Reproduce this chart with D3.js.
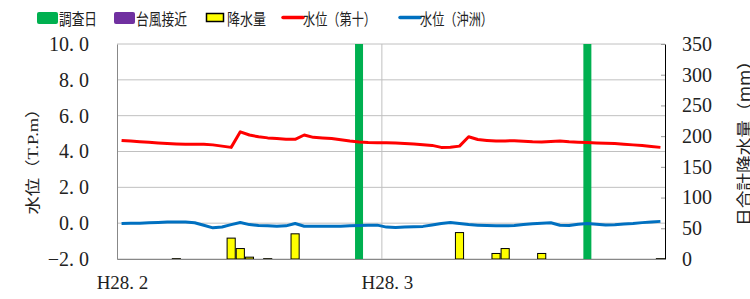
<!DOCTYPE html>
<html>
<head>
<meta charset="utf-8">
<script src="https://cdn.jsdelivr.net/npm/d3@7"></script>
<style>
  body { margin: 0; background: #fff; }
  svg { display: block; }
</style>
</head>
<body>
<script>
// daily values from 2016-02-01 (H28.2.1) to 2016-03-31
var startDate = new Date(2016, 1, 1);
var endDate = new Date(2016, 3, 1);

// 水位（第十） T.P.m
var level10 = [4.62, 4.58, 4.55, 4.51, 4.48, 4.45, 4.42, 4.40, 4.40, 4.41,
  4.37, 4.30, 4.23, 5.10, 4.92, 4.82, 4.76, 4.72, 4.69, 4.68,
  4.92, 4.79, 4.75, 4.72, 4.65, 4.58, 4.53, 4.50, 4.49,
  4.49, 4.47, 4.45, 4.42, 4.38, 4.34, 4.23, 4.24, 4.30, 4.82,
  4.67, 4.62, 4.58, 4.59, 4.60, 4.57, 4.54, 4.53, 4.56, 4.58,
  4.54, 4.52, 4.50, 4.48, 4.46, 4.44, 4.41, 4.37, 4.33, 4.28, 4.23];

// 水位（沖洲） T.P.m
var levelOkinosu = [-0.02, -0.01, 0.00, 0.02, 0.04, 0.06, 0.07, 0.07, 0.02, -0.12,
  -0.26, -0.21, -0.08, 0.04, -0.08, -0.13, -0.15, -0.17, -0.15, -0.02,
  -0.17, -0.17, -0.17, -0.17, -0.17, -0.15, -0.13, -0.12, -0.11,
  -0.22, -0.24, -0.22, -0.20, -0.18, -0.10, -0.02, 0.04, -0.02, -0.08,
  -0.11, -0.13, -0.14, -0.15, -0.13, -0.08, -0.03, 0.00, 0.02, -0.12,
  -0.13, -0.06, -0.02, -0.06, -0.10, -0.09, -0.05, -0.02, 0.03, 0.07, 0.10];

// 日合計降水量 mm
var rainfall = [0, 0, 0, 0, 0, 0, 0.5, 0, 0, 0,
  0, 0, 34, 17, 3, 0, 0.5, 0, 0, 41,
  0, 0, 0, 0, 0, 0, 0, 0, 0,
  0, 0, 0, 0, 0, 0, 0, 0, 43, 0,
  0, 0, 9, 17, 0, 0, 0, 9, 0, 0,
  0, 0, 0, 0, 0, 0, 0, 0, 0, 0, 0.5];

var surveyDays = ["2016-02-27", "2016-03-23"];
var typhoonDays = [];

var levelTicks = [-2, 0, 2, 4, 6, 8, 10];
var rainTicks = [0, 50, 100, 150, 200, 250, 300, 350];
var monthTicks = [new Date(2016, 1, 1), new Date(2016, 2, 1)];
var monthLabels = ["H28. 2", "H28. 3"];

var legendItems = [
  {label: "調査日", type: "rect", color: "#00b050", w: 38},
  {label: "台風接近", type: "rect", color: "#7030a0", w: 51},
  {label: "降水量", type: "bar", color: "#ffff00", w: 39},
  {label: "水位（第十）", type: "line", color: "#ff0000", w: 73},
  {label: "水位（沖洲）", type: "line", color: "#0070c0", w: 73}
];

(function drawChart() {
  var cjk = "'Noto Sans CJK JP', 'Noto Sans', sans-serif";
  var serif = "'Liberation Serif', 'Noto Sans CJK JP', serif";

  var svg = d3.select("body").append("svg")
    .attr("width", 750)
    .attr("height", 299);

  var pL = 117, pR = 665, pT = 44, pB = 259;

  var x = d3.scaleTime().domain([startDate, endDate]).range([pL, pR]);
  var yL = d3.scaleLinear().domain([-2, 10]).range([pB, pT]);
  var yR = d3.scaleLinear().domain([0, 350]).range([pB, pT]);

  var day = function(i) { return d3.timeDay.offset(startDate, i); };
  var mid = function(i) { return x(d3.timeHour.offset(day(i), 12)); };
  var dayW = x(day(1)) - x(day(0));
  var parseDay = function(s) { return d3.timeHour.offset(d3.timeParse("%Y-%m-%d")(s), 12); };

  svg.append("clipPath").attr("id", "plot")
    .append("rect").attr("x", pL).attr("y", pT)
    .attr("width", pR - pL).attr("height", pB - pT);

  // grid
  svg.append("g").selectAll("line").data(levelTicks).enter().append("line")
    .attr("x1", pL).attr("x2", pR)
    .attr("y1", function(d) { return yL(d); })
    .attr("y2", function(d) { return yL(d); })
    .attr("stroke", "#c0c0c0").attr("stroke-width", 1);
  svg.append("g").selectAll("line").data(monthTicks.slice(1)).enter().append("line")
    .attr("x1", function(d) { return x(d); }).attr("x2", function(d) { return x(d); })
    .attr("y1", pT).attr("y2", pB)
    .attr("stroke", "#c0c0c0").attr("stroke-width", 1);

  var plot = svg.append("g").attr("clip-path", "url(#plot)");

  // rain bars
  var rainDays = rainfall.map(function(v, i) { return {i: i, v: v}; })
    .filter(function(d) { return d.v > 0; });
  plot.selectAll(".rain").data(rainDays).enter().append("rect")
    .attr("class", "rain")
    .attr("x", function(d) { return x(day(d.i)) + 0.5; })
    .attr("width", dayW - 1)
    .attr("y", function(d) { return yR(d.v); })
    .attr("height", function(d) { return pB - yR(d.v); })
    .attr("fill", "#ffff00").attr("stroke", "#000").attr("stroke-width", 1);

  // survey days / typhoon
  plot.selectAll(".survey").data(surveyDays).enter().append("rect")
    .attr("class", "survey")
    .attr("x", function(d) { return x(parseDay(d)) - 4; })
    .attr("width", 8)
    .attr("y", pT).attr("height", pB - pT)
    .attr("fill", "#00b050");
  plot.selectAll(".typhoon").data(typhoonDays).enter().append("rect")
    .attr("class", "typhoon")
    .attr("x", function(d) { return x(parseDay(d)) - 4; })
    .attr("width", 8)
    .attr("y", pT).attr("height", pB - pT)
    .attr("fill", "#7030a0");

  // water level lines
  var lineFor = function(values) {
    return d3.line()
      .x(function(d, i) { return mid(i); })
      .y(function(d) { return yL(d); })(values);
  };
  plot.append("path").attr("d", lineFor(level10))
    .attr("fill", "none").attr("stroke", "#ff0000").attr("stroke-width", 3)
    .attr("stroke-linejoin", "round");
  plot.append("path").attr("d", lineFor(levelOkinosu))
    .attr("fill", "none").attr("stroke", "#0070c0").attr("stroke-width", 3)
    .attr("stroke-linejoin", "round");

  // axes
  var axL = svg.append("g").attr("transform", "translate(" + pL + ",0)")
    .call(d3.axisLeft(yL).tickValues(levelTicks).tickSize(0).tickPadding(28)
      .tickFormat(function(d) { return d3.format(".1f")(d).replace(".", ". "); }));
  axL.select(".domain").attr("stroke", "#888");
  axL.selectAll("text").attr("font-family", serif).attr("font-size", 20).attr("fill", "#222");

  var axR = svg.append("g").attr("transform", "translate(" + pR + ",0)")
    .call(d3.axisRight(yR).tickValues(rainTicks).tickSizeInner(-4).tickSizeOuter(0).tickPadding(17));
  axR.select(".domain").attr("stroke", "#000");
  axR.selectAll(".tick line").attr("stroke", "#999");
  axR.selectAll("text").attr("font-family", serif).attr("font-size", 20).attr("fill", "#222");

  var axB = svg.append("g").attr("transform", "translate(0," + pB + ")")
    .call(d3.axisBottom(x).tickValues(monthTicks).tickSize(0).tickPadding(0)
      .tickFormat(function(d, i) { return monthLabels[i]; }));
  axB.select(".domain").attr("stroke", "#888");
  axB.selectAll("text").attr("font-family", serif).attr("font-size", 19).attr("fill", "#222")
    .attr("dy", null).attr("y", 30).attr("dx", 5);

  // axis titles
  svg.append("text")
    .attr("transform", "translate(33,157) rotate(-90)")
    .attr("text-anchor", "middle").attr("dominant-baseline", "central")
    .attr("font-family", serif).attr("font-size", 15).attr("fill", "#222")
    .attr("textLength", 115).attr("lengthAdjust", "spacingAndGlyphs")
    .text("水位（T.P.m）");
  svg.append("text")
    .attr("transform", "translate(743,139) rotate(-90)")
    .attr("text-anchor", "middle").attr("dominant-baseline", "central")
    .attr("font-family", cjk).attr("font-size", 16).attr("fill", "#222")
    .attr("textLength", 174).attr("lengthAdjust", "spacingAndGlyphs")
    .text("日合計降水量（mm）");

  // legend
  var legendX = [37, 114, 206, 283, 400];
  legendItems.forEach(function(d, i) {
    var g = svg.append("g").attr("transform", "translate(" + legendX[i] + ",0)");
    var tx;
    if (d.type === "rect") {
      g.append("rect").attr("x", 0).attr("y", 12).attr("width", 21).attr("height", 12)
        .attr("rx", 2).attr("fill", d.color);
      tx = 22;
    } else if (d.type === "bar") {
      g.append("rect").attr("x", 0.5).attr("y", 13.5).attr("width", 17).attr("height", 8)
        .attr("fill", d.color).attr("stroke", "#000").attr("stroke-width", 1.5);
      tx = 21;
    } else {
      g.append("line").attr("x1", 0).attr("x2", 20).attr("y1", 17.5).attr("y2", 17.5)
        .attr("stroke", d.color).attr("stroke-width", 3.5).attr("stroke-linecap", "round");
      tx = 20;
    }
    g.append("text").attr("x", tx).attr("y", 18).attr("dominant-baseline", "central")
      .attr("font-family", cjk).attr("font-size", 16).attr("fill", "#222")
      .attr("textLength", d.w).attr("lengthAdjust", "spacingAndGlyphs")
      .text(d.label);
  });
})();
</script>
</body>
</html>
